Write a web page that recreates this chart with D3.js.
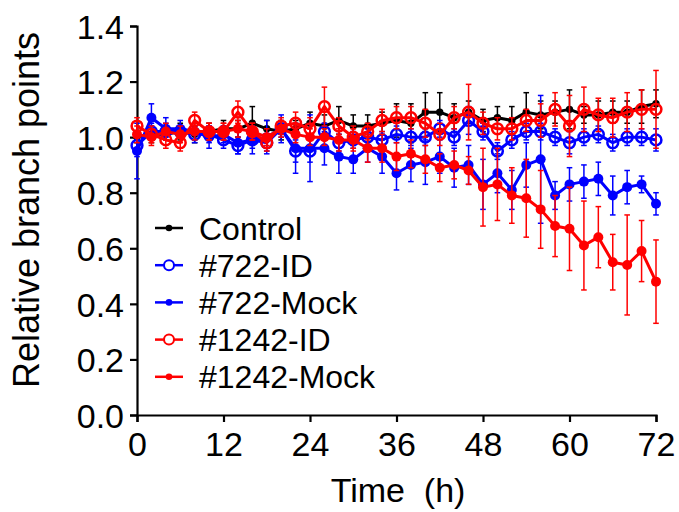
<!DOCTYPE html>
<html>
<head>
<meta charset="utf-8">
<script src="https://cdn.jsdelivr.net/npm/d3@7"></script>
<style>
  body { margin: 0; background: #fff; }
  svg { font-family: "Liberation Sans", Arial, sans-serif; }
</style>
</head>
<body>
<div id="chart"></div>
<script>
// time points (h)
var times = [0,2,4,6,8,10,12,14,16,18,20,22,24,26,28,30,32,34,36,38,40,42,44,46,48,50,52,54,56,58,60,62,64,66,68,70,72];

var controlMean = [1.00,1.01,1.01,1.02,1.01,1.02,1.03,1.03,1.05,1.03,1.02,1.03,1.05,1.04,1.06,1.04,1.04,1.05,1.06,1.05,1.09,1.09,1.07,1.09,1.06,1.07,1.06,1.09,1.08,1.09,1.10,1.08,1.08,1.09,1.09,1.11,1.12];
var controlErr  = [0.02,0.03,0.02,0.03,0.03,0.03,0.03,0.03,0.06,0.03,0.03,0.03,0.04,0.04,0.05,0.04,0.04,0.04,0.06,0.07,0.07,0.07,0.05,0.04,0.04,0.04,0.05,0.07,0.05,0.04,0.07,0.03,0.05,0.04,0.04,0.06,0.05];

var id722Mean = [0.97,1.02,1.02,1.02,1.01,1.01,0.99,0.97,0.99,0.98,1.03,0.95,0.95,1.02,0.98,0.99,1.00,0.99,1.01,1.00,1.00,1.03,1.00,1.06,1.02,0.95,0.99,1.02,1.02,1.00,0.98,1.00,1.01,0.98,1.00,1.00,0.99];
var id722Err  = [0.04,0.03,0.03,0.02,0.03,0.03,0.03,0.03,0.03,0.03,0.03,0.04,0.04,0.03,0.03,0.03,0.03,0.03,0.03,0.03,0.03,0.03,0.03,0.05,0.03,0.03,0.03,0.03,0.03,0.03,0.04,0.03,0.03,0.03,0.03,0.03,0.04];

var mock722Mean = [0.95,1.07,1.03,1.03,1.02,1.00,1.01,0.98,0.99,1.00,1.03,0.96,0.96,0.96,0.93,0.92,0.96,0.93,0.87,0.90,0.91,0.93,0.89,0.90,0.83,0.87,0.81,0.90,0.92,0.79,0.83,0.84,0.85,0.79,0.82,0.83,0.76];
var mock722Err  = [0.10,0.05,0.04,0.03,0.03,0.04,0.03,0.04,0.05,0.06,0.05,0.09,0.12,0.06,0.06,0.05,0.05,0.06,0.06,0.06,0.08,0.06,0.07,0.07,0.09,0.07,0.07,0.08,0.23,0.05,0.06,0.06,0.06,0.07,0.06,0.03,0.04];

var id1242Mean = [1.04,1.01,0.99,0.98,1.06,1.02,1.02,1.09,1.02,0.98,1.04,1.05,1.03,1.11,1.04,1.00,1.02,1.06,1.07,1.07,1.05,1.01,1.07,1.09,1.05,1.03,1.03,1.06,1.06,1.10,1.04,1.10,1.08,1.07,1.09,1.10,1.10];
var id1242Err  = [0.03,0.03,0.03,0.03,0.03,0.03,0.03,0.04,0.03,0.03,0.03,0.04,0.04,0.07,0.03,0.04,0.03,0.04,0.04,0.04,0.05,0.04,0.04,0.10,0.04,0.04,0.04,0.04,0.06,0.06,0.11,0.08,0.06,0.07,0.07,0.07,0.14];

var mock1242Mean = [1.01,1.00,1.02,1.01,1.02,1.02,1.02,1.03,1.02,1.00,1.03,1.01,1.00,1.00,0.99,0.99,0.96,0.96,0.93,0.94,0.92,0.89,0.90,0.88,0.82,0.83,0.79,0.78,0.74,0.68,0.67,0.61,0.64,0.55,0.54,0.59,0.48];
var mock1242Err  = [0.03,0.03,0.03,0.03,0.03,0.03,0.03,0.03,0.03,0.03,0.03,0.03,0.03,0.03,0.04,0.04,0.05,0.05,0.05,0.05,0.05,0.05,0.05,0.05,0.14,0.13,0.10,0.14,0.14,0.11,0.15,0.16,0.11,0.10,0.18,0.11,0.15];

var xTicks = [0,12,24,36,48,60,72];
var yTicks = [0,0.2,0.4,0.6,0.8,1.0,1.2,1.4];

var series = [
  {name: "Control",    mean: controlMean,  err: controlErr,  color: "#000000", open: false, r: 3.7},
  {name: "#722-ID",    mean: id722Mean,    err: id722Err,    color: "#0000ff", open: true,  r: 5.4},
  {name: "#722-Mock",  mean: mock722Mean,  err: mock722Err,  color: "#0000ff", open: false, r: 5},
  {name: "#1242-ID",   mean: id1242Mean,   err: id1242Err,   color: "#ff0000", open: true,  r: 5.4},
  {name: "#1242-Mock", mean: mock1242Mean, err: mock1242Err, color: "#ff0000", open: false, r: 5}
];

var width = 679, height = 512;
var margin = {top: 26, right: 23, bottom: 97, left: 137};

var svg = d3.select("#chart").append("svg")
    .attr("width", width)
    .attr("height", height);

var x = d3.scaleLinear().domain([0, 72]).range([margin.left, width - margin.right]);
var y = d3.scaleLinear().domain([0, 1.4]).range([height - margin.bottom, margin.top]);

// axes
var xAxis = svg.append("g")
    .attr("transform", "translate(0," + y(0) + ")")
    .call(d3.axisBottom(x).tickValues(xTicks).tickSize(7).tickPadding(10).tickFormat(d3.format("d")));
var yAxis = svg.append("g")
    .attr("transform", "translate(" + x(0) + ",0)")
    .call(d3.axisLeft(y).tickValues(yTicks).tickSize(7).tickPadding(6).tickFormat(d3.format(".1f")));

[xAxis, yAxis].forEach(function(a) {
  a.select(".domain").attr("stroke", "#000").attr("stroke-width", 2.2);
  a.selectAll(".tick line").attr("stroke", "#000").attr("stroke-width", 2.2);
  a.selectAll(".tick text").attr("fill", "#000").style("font-size", "34px");
});
xAxis.selectAll(".tick text").attr("dy", "0.71em");
yAxis.selectAll(".tick text").attr("dy", "0.36em");

// axis titles
svg.append("text")
    .attr("x", 398)
    .attr("y", 502)
    .attr("text-anchor", "middle")
    .style("font-size", "34px")
    .attr("xml:space", "preserve")
    .text("Time  (h)");

svg.append("text")
    .attr("transform", "translate(38.5," + 210 + ")rotate(-90)")
    .attr("text-anchor", "middle")
    .style("font-size", "36px")
    .text("Relative branch points");

var line = d3.line()
    .x(function(d) { return x(d.t); })
    .y(function(d) { return y(d.v); });

var plot = svg.append("g");

series.forEach(function(s) {
  var pts = times.map(function(t, i) { return {t: t, v: s.mean[i], e: s.err[i]}; });
  var g = plot.append("g");

  // error bars
  var eb = g.selectAll(".eb").data(pts).enter().append("g")
      .attr("stroke", s.color).attr("stroke-width", 1.5);
  eb.append("line")
      .attr("x1", function(d) { return x(d.t); })
      .attr("x2", function(d) { return x(d.t); })
      .attr("y1", function(d) { return y(d.v + d.e); })
      .attr("y2", function(d) { return y(d.v - d.e); });
  eb.append("line")
      .attr("x1", function(d) { return x(d.t) - 2.8; })
      .attr("x2", function(d) { return x(d.t) + 2.8; })
      .attr("y1", function(d) { return y(d.v + d.e); })
      .attr("y2", function(d) { return y(d.v + d.e); });
  eb.append("line")
      .attr("x1", function(d) { return x(d.t) - 2.8; })
      .attr("x2", function(d) { return x(d.t) + 2.8; })
      .attr("y1", function(d) { return y(d.v - d.e); })
      .attr("y2", function(d) { return y(d.v - d.e); });

  g.append("path")
      .datum(pts)
      .attr("fill", "none")
      .attr("stroke", s.color)
      .attr("stroke-width", 3)
      .attr("stroke-linejoin", "round")
      .attr("d", line);

  g.selectAll("circle").data(pts).enter().append("circle")
      .attr("cx", function(d) { return x(d.t); })
      .attr("cy", function(d) { return y(d.v); })
      .attr("r", s.r)
      .attr("fill", s.open ? "none" : s.color)
      .attr("stroke", s.color)
      .attr("stroke-width", s.open ? 2.5 : 0);
});

// legend
var legend = svg.append("g").attr("transform", "translate(155,228)");
var li = legend.selectAll("g").data(series).enter().append("g")
    .attr("transform", function(d, i) { return "translate(0," + i * 37.2 + ")"; });
li.append("line")
    .attr("x1", 0).attr("x2", 28)
    .attr("stroke", function(d) { return d.color; })
    .attr("stroke-width", 2.5);
li.append("circle")
    .attr("cx", 14)
    .attr("r", function(d) { return d.open ? 5 : 3.3; })
    .attr("fill", function(d) { return d.open ? "#fff" : d.color; })
    .attr("stroke", function(d) { return d.color; })
    .attr("stroke-width", function(d) { return d.open ? 2 : 0; });
li.append("text")
    .attr("x", 44)
    .attr("dy", "0.36em")
    .style("font-size", "32px")
    .text(function(d) { return d.name; });
</script>
</body>
</html>
